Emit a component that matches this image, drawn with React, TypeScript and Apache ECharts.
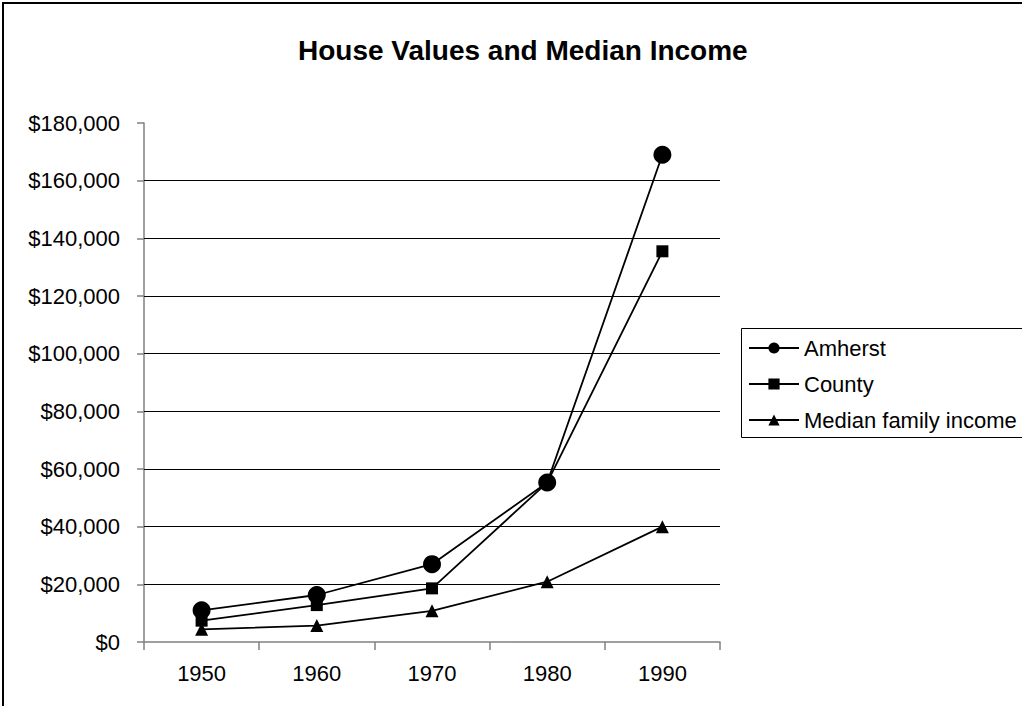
import React, { useEffect, useRef } from "react";
import * as echarts from "echarts";

const years = ["1950", "1960", "1970", "1980", "1990"];
const amherst = [11000, 16300, 27000, 55300, 169000];
const county = [7400, 12800, 18600, 55300, 135500];
const medianIncome = [4400, 5700, 10800, 20900, 40000];
const gridValues = [20000, 40000, 60000, 80000, 100000, 120000, 140000, 160000];

const FONT = "'Liberation Sans', Arial, sans-serif";

export default function App() {
  const ref = useRef<HTMLDivElement>(null);
  useEffect(() => {
    if (!ref.current) return;
    const chart = echarts.init(ref.current, null, { renderer: "svg" });
    const lineCommon = {
      type: "line" as const,
      lineStyle: { color: "#000", width: 1.8 },
      itemStyle: { color: "#000" },
      z: 3,
    };
    chart.setOption({
      animation: false,
      backgroundColor: "#fff",
      textStyle: { fontFamily: FONT },
      title: {
        text: "House Values and Median Income",
        left: 298,
        top: 36,
        padding: 0,
        textStyle: { fontFamily: FONT, fontSize: 28, fontWeight: "bold", color: "#000" },
      },
      graphic: [
        {
          type: "rect",
          shape: { x: 3, y: 3, width: 1100, height: 800 },
          style: { fill: "none", stroke: "#000", lineWidth: 2 },
          z: 0,
        },
        {
          type: "rect",
          shape: { x: 741.5, y: 328.5, width: 400, height: 109 },
          style: { fill: "none", stroke: "#000", lineWidth: 1 },
          z: 0,
        },
      ],
      legend: {
        orient: "vertical",
        left: 748,
        top: 337,
        padding: 0,
        itemWidth: 50,
        itemHeight: 14,
        itemGap: 14,
        textStyle: { fontFamily: FONT, fontSize: 22, color: "#000" },
        data: ["Amherst", "County", "Median family income"],
      },
      grid: { left: 144, right: 302, top: 123, bottom: 64, containLabel: false },
      xAxis: {
        type: "category",
        data: years,
        boundaryGap: true,
        axisLine: { lineStyle: { color: "#808080", width: 1.5 } },
        axisTick: { show: true, length: 8, alignWithLabel: false, lineStyle: { color: "#808080", width: 1.5 } },
        axisLabel: { fontFamily: FONT, fontSize: 22, color: "#000", margin: 20 },
        splitLine: { show: false },
      },
      yAxis: {
        type: "value",
        min: 0,
        max: 180000,
        interval: 20000,
        axisLine: { show: true, lineStyle: { color: "#808080", width: 1.5 } },
        axisTick: { show: true, length: 7, lineStyle: { color: "#808080", width: 1.5 } },
        axisLabel: {
          fontFamily: FONT,
          fontSize: 22,
          color: "#000",
          margin: 24,
          formatter: (v: number) => "$" + v.toLocaleString("en-US"),
        },
        splitLine: { show: false },
      },
      series: [
        {
          ...lineCommon,
          name: "Amherst",
          data: amherst,
          symbol: "circle",
          symbolSize: 18,
          markLine: {
            silent: true,
            symbol: "none",
            label: { show: false },
            lineStyle: { color: "#000", width: 1, type: "solid" },
            data: gridValues.map((v) => ({ yAxis: v })),
            z: 1,
          },
        },
        {
          ...lineCommon,
          name: "County",
          data: county,
          symbol: "rect",
          symbolSize: 12,
        },
        {
          ...lineCommon,
          name: "Median family income",
          data: medianIncome,
          symbol: "triangle",
          symbolSize: 13,
        },
      ],
    });
    return () => chart.dispose();
  }, []);
  return (
    <div
      ref={ref}
      style={{ position: "absolute", left: 0, top: 0, width: 1022, height: 706 }}
    />
  );
}
